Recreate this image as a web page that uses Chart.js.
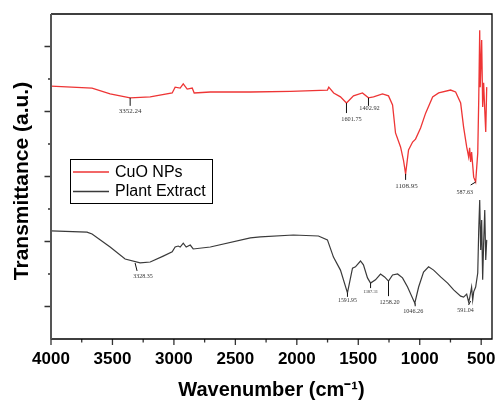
<!DOCTYPE html>
<html>
<head>
<meta charset="utf-8">
<script src="https://cdn.jsdelivr.net/npm/chart.js@4.4.1/dist/chart.umd.min.js"></script>
<style>
  html, body { margin: 0; padding: 0; background: #fff; }
  canvas { display: block; }
</style>
</head>
<body>
<canvas id="ftir" width="496" height="401"></canvas>
<script>
// FTIR spectra: CuO NPs (red) and plant extract (dark grey)
const xTickValues = [4000, 3500, 3000, 2500, 2000, 1500, 1000, 500];
const xMinorValues = [3750, 3250, 2750, 2250, 1750, 1250, 750];
const yMajorValues = [10, 30, 50, 70, 90];
const yMinorValues = [20, 40, 60, 80];

const cuoWn = [4000, 3666, 3519, 3356, 3193, 3014, 2990, 2949, 2924, 2892, 2851, 2835, 2704, 2378, 2052, 1751, 1740, 1700, 1645, 1596, 1539, 1466, 1417, 1376, 1303, 1254, 1221, 1197, 1156, 1132, 1115, 1091, 1058, 1034, 993, 952, 895, 846, 749, 708, 667, 643, 618, 602, 594, 586, 578, 569, 561, 545, 528, 520, 512, 508, 496, 488, 480, 471, 463, 455];
const cuoT = [77.8, 77.2, 75.4, 74.2, 74.5, 75.7, 77.5, 77.2, 78.5, 76.9, 77.2, 75.7, 76.0, 76.0, 76.2, 76.6, 77.5, 75.7, 74.5, 72.6, 74.8, 75.7, 74.2, 74.5, 75.4, 74.8, 72.0, 63.4, 59.1, 55.0, 50.8, 58.2, 60.6, 61.5, 64.9, 69.5, 74.5, 75.7, 76.6, 76.0, 72.6, 65.2, 59.1, 56.0, 58.8, 54.5, 57.5, 53.5, 49.8, 48.3, 57.2, 73.5, 95.0, 77.5, 92.0, 71.4, 78.8, 70.5, 63.7, 77.5];

const plantWn = [4000, 3707, 3666, 3519, 3397, 3275, 3193, 3087, 3014, 2990, 2965, 2949, 2924, 2900, 2867, 2843, 2704, 2378, 2297, 2028, 1824, 1751, 1702, 1645, 1588, 1547, 1523, 1482, 1458, 1425, 1400, 1360, 1319, 1286, 1254, 1221, 1180, 1140, 1099, 1040, 1009, 969, 928, 887, 830, 773, 724, 667, 643, 618, 602, 594, 578, 569, 561, 545, 528, 520, 512, 504, 496, 488, 480, 471, 463, 455];
const plantT = [33.3, 32.9, 32.3, 28.3, 24.6, 23.4, 23.7, 25.5, 26.8, 28.3, 28.6, 28.3, 29.5, 28.3, 28.9, 27.7, 28.3, 31.1, 31.4, 32.0, 31.7, 30.5, 25.2, 21.2, 14.2, 21.8, 22.2, 24.0, 22.8, 18.8, 17.2, 18.2, 20.0, 19.1, 17.8, 19.7, 20.0, 18.8, 16.0, 11.0, 16.0, 20.6, 22.2, 21.2, 19.1, 17.2, 15.1, 13.2, 12.9, 13.8, 11.4, 12.6, 16.0, 12.0, 14.5, 16.0, 20.3, 33.5, 42.8, 27.4, 36.6, 18.2, 29.5, 39.7, 24.3, 30.5];

// peak labels
const cuoPeakText = ['3352.24', '1601.75', '1402.92', '1108.95', '587.63'];
const cuoPeakWn = [3356, 1596, 1417, 1115, 545];
const cuoPeakT = [74.2, 72.6, 74.2, 50.8, 48.3];
const plantPeakText = ['3328.35', '1591.95', '1387.31', '1258.20', '1046.26', '591.04'];
const plantPeakWn = [3316, 1588, 1400, 1254, 1037, 586];
const plantPeakT = [23.4, 14.2, 17.2, 17.8, 11.0, 11.7];

// leader line end (dx, dy), label centre (dx, dy), font size  -- pixels
const cuoPeakLayout = [[0, 8, 0, 13, 7], [0, 10, 5, 16, 6.3], [0, 8, 1, 11, 6.3], [0, 6, 1, 12, 7], [-5, 3, -11, 10, 6]];
const plantPeakLayout = [[2, 8, 8, 13, 6], [0, 4, 0, 8, 5.8], [0, 5, 0, 8.5, 4.5], [0, 15, 1, 21, 6.2], [0, 3, -2, 8.5, 6.2], [-2, 4, -5, 9, 6]];

const yTitle = 'Transmittance (a.u.)';

const toPoints = (xs, ys) => xs.map((x, i) => ({ x: x, y: ys[i] }));

const frameAndTicks = {
    id: 'frameAndTicks',
    afterDraw(chart) {
        const { ctx, chartArea: a, scales: { x, y } } = chart;
        ctx.save();
        // ticks
        ctx.strokeStyle = '#333';
        ctx.lineWidth = 1.3;
        ctx.beginPath();
        xTickValues.forEach(v => { const px = x.getPixelForValue(v); ctx.moveTo(px, a.bottom); ctx.lineTo(px, a.bottom + 6); });
        xMinorValues.forEach(v => { const px = x.getPixelForValue(v); ctx.moveTo(px, a.bottom); ctx.lineTo(px, a.bottom + 3.5); });
        yMajorValues.forEach(v => { const py = y.getPixelForValue(v); ctx.moveTo(a.left, py); ctx.lineTo(a.left - 6.5, py); });
        yMinorValues.forEach(v => { const py = y.getPixelForValue(v); ctx.moveTo(a.left, py); ctx.lineTo(a.left - 3, py); });
        ctx.stroke();
        // frame
        ctx.strokeStyle = '#000';
        ctx.lineWidth = 1.3;
        ctx.beginPath();
        ctx.moveTo(a.left, a.top); ctx.lineTo(a.right, a.top); ctx.lineTo(a.right, a.bottom); ctx.lineTo(a.left, a.bottom);
        ctx.stroke();
        ctx.strokeStyle = '#555';
        ctx.lineWidth = 2;
        ctx.beginPath();
        ctx.moveTo(a.left, a.top); ctx.lineTo(a.left, a.bottom + 0.6);
        ctx.stroke();

        // y axis title
        ctx.save();
        ctx.translate(22, (a.top + a.bottom) / 2 + 4.5);
        ctx.rotate(-Math.PI / 2);
        ctx.fillStyle = '#000';
        ctx.font = 'bold 21px "Liberation Sans", Arial, sans-serif';
        ctx.textAlign = 'center';
        ctx.textBaseline = 'middle';
        ctx.fillText(yTitle, 0, 0);
        ctx.restore();

        // peak labels
        const drawPeaks = (texts, wns, ts, layout) => {
            texts.forEach((t, i) => {
                const px = x.getPixelForValue(wns[i]);
                const py = y.getPixelForValue(ts[i]);
                const [ldx, ldy, tdx, tdy, fs] = layout[i];
                ctx.strokeStyle = '#111';
                ctx.lineWidth = 1;
                ctx.beginPath();
                ctx.moveTo(px, py);
                ctx.lineTo(px + ldx, py + ldy);
                ctx.stroke();
                ctx.fillStyle = '#333';
                ctx.font = fs + 'px "Liberation Serif", "Times New Roman", serif';
                ctx.textAlign = 'center';
                ctx.textBaseline = 'middle';
                ctx.fillText(t, px + tdx, py + tdy);
            });
        };
        drawPeaks(cuoPeakText, cuoPeakWn, cuoPeakT, cuoPeakLayout);
        drawPeaks(plantPeakText, plantPeakWn, plantPeakT, plantPeakLayout);

        // legend box
        ctx.strokeStyle = '#000';
        ctx.lineWidth = 1;
        ctx.strokeRect(70.5, 159.5, 142, 44);
        chart.data.datasets.forEach((ds, i) => {
            const ly = 172 + i * 19.5;
            ctx.strokeStyle = ds.borderColor;
            ctx.lineWidth = 1.3;
            ctx.beginPath();
            ctx.moveTo(73, ly);
            ctx.lineTo(109, ly);
            ctx.stroke();
            ctx.fillStyle = '#000';
            ctx.font = '16px "Liberation Sans", Arial, sans-serif';
            ctx.textAlign = 'left';
            ctx.textBaseline = 'middle';
            ctx.fillText(ds.label, 115, ly + 0.5);
        });
        ctx.restore();
    }
};

new Chart(document.getElementById('ftir'), {
    type: 'line',
    data: {
        datasets: [
            { label: 'CuO NPs', data: toPoints(cuoWn, cuoT), borderColor: '#ee3535', borderWidth: 1.3 },
            { label: 'Plant Extract', data: toPoints(plantWn, plantT), borderColor: '#3a3a3a', borderWidth: 1.2 }
        ]
    },
    options: {
        responsive: false,
        animation: false,
        layout: { padding: { top: 14, right: 4, left: 0, bottom: 0 } },
        elements: { point: { radius: 0 }, line: { tension: 0 } },
        plugins: { legend: { display: false }, tooltip: { enabled: false } },
        scales: {
            x: {
                type: 'linear',
                reverse: true,
                min: 412,
                max: 4000,
                afterBuildTicks: s => { s.ticks = xTickValues.map(v => ({ value: v })); },
                afterFit: s => { s.height = 62; s.paddingLeft = 0; s.paddingRight = 0; },
                grid: { display: false, drawTicks: false },
                border: { display: false },
                ticks: {
                    padding: 10,
                    color: '#000',
                    callback: v => String(v),
                    font: { family: '"Liberation Sans", Arial, sans-serif', size: 17, weight: 'bold' },
                    maxRotation: 0,
                    autoSkip: false
                },
                title: {
                    display: true,
                    text: 'Wavenumber (cm⁻¹)',
                    color: '#000',
                    padding: { top: 0, bottom: 0 },
                    font: { family: '"Liberation Sans", Arial, sans-serif', size: 20, weight: 'bold', lineHeight: 1.1 }
                }
            },
            y: {
                min: 0,
                max: 100,
                afterFit: s => { s.width = 51; s.paddingTop = 0; s.paddingBottom = 0; },
                grid: { display: false, drawTicks: false },
                border: { display: false },
                ticks: { display: false }
            }
        }
    },
    plugins: [frameAndTicks]
});
</script>
</body>
</html>
